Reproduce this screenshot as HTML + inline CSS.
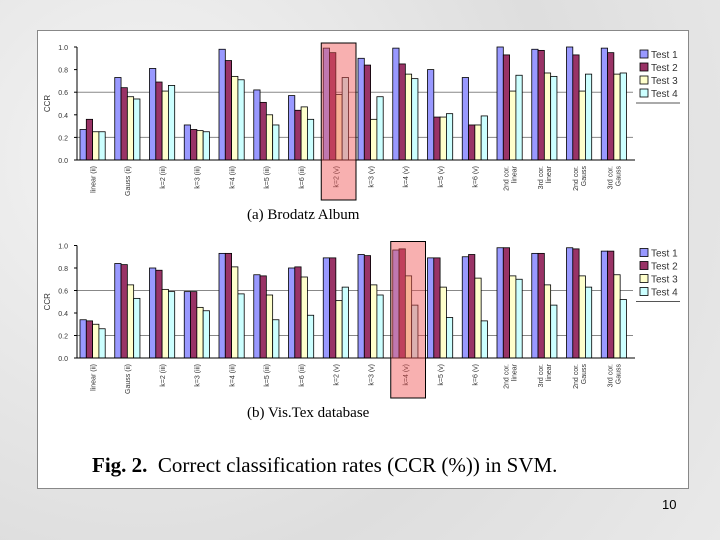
<!DOCTYPE html>
<html><head><meta charset="utf-8">
<style>
html,body{margin:0;padding:0;width:720px;height:540px;overflow:hidden;}
body{background:radial-gradient(circle at 20% 30%,#f4f4f4,#dedede 60%,#e9e9e9);font-family:"Liberation Sans",sans-serif;}
#panel{position:absolute;left:37px;top:30px;width:650px;height:457px;background:#fff;border:1px solid #888;}
.cap{position:absolute;font-family:"Liberation Serif",serif;color:#000;white-space:nowrap;}
</style></head>
<body>
<div id="panel"></div>
<svg id="chart" width="720" height="540" style="position:absolute;left:0;top:0"></svg>
<div class="cap" style="left:247px;top:207px;font-size:15px">(a) Brodatz Album</div>
<div class="cap" style="left:247px;top:405px;font-size:15px">(b) Vis.Tex database</div>
<div class="cap" style="left:92px;top:453px;font-size:21px"><b>Fig. 2.</b>&nbsp; Correct classification rates (CCR (%)) in SVM.</div>
<div style="position:absolute;left:662px;top:497px;font-size:13px">10</div>
<script>
const categories=["linear (ii)","Gauss (ii)","k=2 (iii)","k=3 (iii)","k=4 (iii)","k=5 (iii)","k=6 (iii)","k=2 (v)","k=3 (v)","k=4 (v)","k=5 (v)","k=6 (v)","2nd cor.|linear","3rd cor.|linear","2nd cor.|Gauss","3rd cor.|Gauss"];
const seriesNames=["Test 1","Test 2","Test 3","Test 4"];
const yTicks=[0,0.2,0.4,0.6,0.8,1.0];
const yTickLabels=["0.0","0.2","0.4","0.6","0.8","1.0"];
const a1=[0.27,0.73,0.81,0.31,0.98,0.62,0.57,0.99,0.90,0.99,0.80,0.73,1.0,0.98,1.0,0.99];
const a2=[0.36,0.64,0.69,0.27,0.88,0.51,0.44,0.95,0.84,0.85,0.38,0.31,0.93,0.97,0.93,0.95];
const a3=[0.25,0.56,0.61,0.26,0.74,0.40,0.47,0.58,0.36,0.76,0.38,0.31,0.61,0.77,0.61,0.76];
const a4=[0.25,0.54,0.66,0.25,0.71,0.31,0.36,0.73,0.56,0.72,0.41,0.39,0.75,0.74,0.76,0.77];
const b1=[0.34,0.84,0.80,0.59,0.93,0.74,0.80,0.89,0.92,0.96,0.89,0.90,0.98,0.93,0.98,0.95];
const b2=[0.33,0.83,0.78,0.59,0.93,0.73,0.81,0.89,0.91,0.97,0.89,0.92,0.98,0.93,0.97,0.95];
const b3=[0.30,0.65,0.61,0.45,0.81,0.56,0.72,0.51,0.65,0.73,0.63,0.71,0.73,0.65,0.73,0.74];
const b4=[0.26,0.53,0.59,0.42,0.57,0.34,0.38,0.63,0.56,0.47,0.36,0.33,0.70,0.47,0.63,0.52];
const colors=["#9999ff","#993366","#ffffcc","#ccffff"];
const svg=document.getElementById('chart');
const NS="http://www.w3.org/2000/svg";
function mk(t,at){const e=document.createElementNS(NS,t);for(const k in at)e.setAttribute(k,at[k]);svg.appendChild(e);return e;}
function drawChart(prefix,series,base,top,hiIdx){
  const x0=77,x1=633,cw=(x1-x0)/categories.length;
  const yS=v=>base-(base-top)*v;
  const xS=i=>x0+cw*i;
  [0.2,0.6].forEach(v=>{const g=mk('line',{x1:x0,x2:x1,y1:yS(v),y2:yS(v),stroke:'#888','stroke-width':1});
    
    });
  yTicks.forEach((v,i)=>{
    const t=mk('text',{x:68,y:yS(v)+3,'font-size':7,'text-anchor':'end',fill:'#333'});t.textContent=yTickLabels[i];
    
    
    mk('line',{x1:74,x2:77,y1:yS(v),y2:yS(v),stroke:'#000'});
  });
  const yt=mk('text',{x:0,y:0,'font-size':8,'text-anchor':'middle',fill:'#333',transform:`translate(50,${(base+top)/2}) rotate(-90)`});yt.textContent='CCR';
  
  
  const bw=6.3;
  categories.forEach((c,i)=>{
    series.forEach((s,k)=>{
      const y=yS(s[i]);
      const r=mk('rect',{x:xS(i)+3+bw*k,y:y,width:bw,height:base-y,fill:colors[k],stroke:'#000','stroke-width':0.8});
      
      
    });
    const lines=c.split('|');
    lines.forEach((ln,j)=>{
      const cx=xS(i)+cw/2-2+j*8-(lines.length-1)*4;
      const t=mk('text',{x:0,y:0,'font-size':7,'text-anchor':'end',fill:'#333',transform:`translate(${cx+3},${base+6}) rotate(-90)`});
      t.textContent=ln;
      
      
    });
  });
  mk('line',{x1:x0,x2:x0,y1:top,y2:base,stroke:'#000'});
  mk('line',{x1:x0,x2:x1+2,y1:base,y2:base,stroke:'#000'});
  const hx=xS(hiIdx)+1;
  const hl=mk('rect',{x:hx,y:top-4,width:cw,height:base-top+44,fill:'rgba(240,80,80,0.45)',stroke:'#000','stroke-width':1});
  
  
  seriesNames.forEach((n,k)=>{
    const ly=top+10+k*13;
    const r=mk('rect',{x:640,y:ly-7,width:8,height:8,fill:colors[k],stroke:'#000','stroke-width':0.8});
    
    
    const t=mk('text',{x:651,y:ly+1,'font-size':10,fill:'#333'});t.textContent=n;
    
    
  });
  mk('line',{x1:636,x2:680,y1:top+56,y2:top+56,stroke:'#555'});
}
drawChart('chart-a',[a1,a2,a3,a4],160,47,7);
drawChart('chart-b',[b1,b2,b3,b4],358,245.5,9);
</script>
</body></html>
